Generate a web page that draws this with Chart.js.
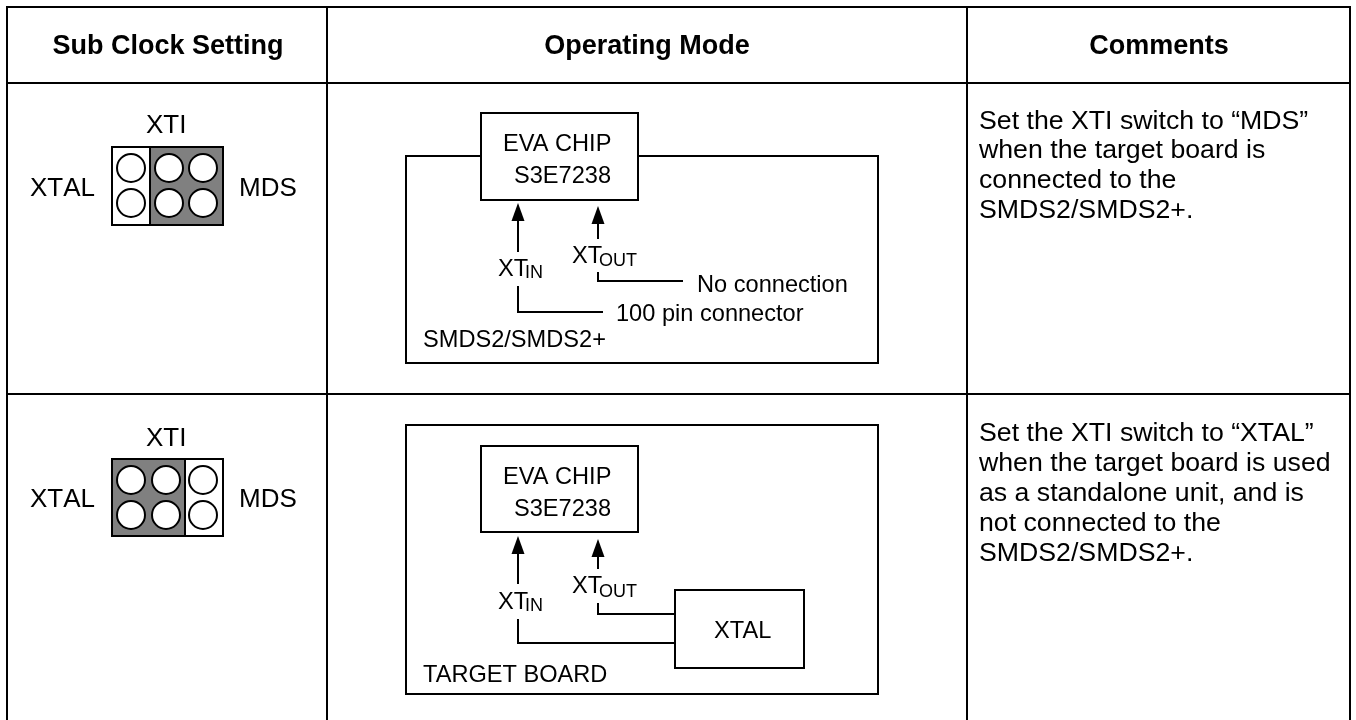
<!DOCTYPE html>
<html>
<head>
<meta charset="utf-8">
<title>Sub Clock Setting</title>
<script src="https://cdn.jsdelivr.net/npm/chart.js@4"></script>
<style>
  html, body { margin: 0; padding: 0; background: #fff; }
  canvas { display: block; }
</style>
</head>
<body>
<canvas id="clockChart" width="1356" height="720"></canvas>
<script>
// Table frame
const tableColumnXs = [7, 327, 967, 1350];
const tableRowYs = [7, 83, 394];
const tableBottomY = 720;

// Jumper blocks: [left, right, top, bottom, divider x]
const jumperTop = [112, 223, 147, 225, 150];
const jumperBottom = [112, 223, 459, 536, 185];
const jumperTopPins = [[131, 168], [169, 168], [203, 168], [131, 203], [169, 203], [203, 203]];
const jumperBottomPins = [[131, 480], [166, 480], [203, 480], [131, 515], [166, 515], [203, 515]];

// Outlines of the two operating mode drawings
const boardTopPath = [[481, 156], [406, 156], [406, 363], [878, 363], [878, 156], [638, 156]];
const chipTopPath = [[481, 113], [638, 113], [638, 200], [481, 200], [481, 113]];
const boardBottomPath = [[406, 425], [878, 425], [878, 694], [406, 694], [406, 425]];
const chipBottomPath = [[481, 446], [638, 446], [638, 532], [481, 532], [481, 446]];
const xtalBoxPath = [[675, 590], [804, 590], [804, 668], [675, 668], [675, 590]];

// Wires
const wirePaths = [
  [[518, 221], [518, 251]],
  [[598, 224], [598, 238]],
  [[518, 287], [518, 312], [602, 312]],
  [[598, 273], [598, 281], [682, 281]],
  [[518, 554], [518, 583]],
  [[598, 557], [598, 568]],
  [[598, 604], [598, 614], [675, 614]],
  [[518, 620], [518, 643], [675, 643]]
];

// Arrow heads: [x, tip y]
const arrowTips = [[518, 203], [598, 206], [518, 536], [598, 539]];
const arrowLength = 18;
const arrowHalfWidth = 6.5;

// Header text
const headerTexts = ['Sub Clock Setting', 'Operating Mode', 'Comments'];
const headerXs = [168, 647, 1159];
const headerY = 54;

// Jumper text
const jumperTexts = ['XTI', 'XTAL', 'MDS', 'XTI', 'XTAL', 'MDS'];
const jumperXs = [146, 30, 239, 146, 30, 239];
const jumperYs = [133, 196, 196, 446, 507, 507];

// Diagram text
const labelTexts = ['EVA CHIP', 'S3E7238', 'XT', 'XT', 'No connection', '100 pin connector', 'SMDS2/SMDS2+',
  'EVA CHIP', 'S3E7238', 'XT', 'XT', 'XTAL', 'TARGET BOARD'];
const labelXs = [503, 514, 498, 572, 697, 616, 423,
  503, 514, 498, 572, 714, 423];
const labelYs = [151, 183, 276, 263, 292, 321, 347,
  484, 516, 609, 593, 638, 682];

// Subscripts
const subTexts = ['IN', 'OUT', 'IN', 'OUT'];
const subXs = [525, 599, 525, 599];
const subYs = [278, 266, 611, 597];

// Comments column
const commentLines = [
  'Set the XTI switch to \u201CMDS\u201D', 'when the target board is', 'connected to the', 'SMDS2/SMDS2+.',
  'Set the XTI switch to \u201CXTAL\u201D', 'when the target board is used', 'as a standalone unit, and is', 'not connected to the', 'SMDS2/SMDS2+.'
];
const commentX = 979;
const commentYs = [129, 158, 188, 218, 441, 471, 501, 531, 561];

function toPoints(path) {
  return path.map(function (p) { return { x: p[0], y: p[1] }; });
}

function rectPath(r, left, right) {
  return [[left, r[2]], [right, r[2]], [right, r[3]], [left, r[3]], [left, r[2]]];
}

const datasets = [];

function addPath(path, width, fillColor) {
  datasets.push({
    data: toPoints(path),
    borderColor: '#000',
    borderWidth: width,
    borderCapStyle: 'square',
    pointRadius: 0,
    tension: 0,
    fill: fillColor ? 'shape' : false,
    backgroundColor: fillColor || 'transparent'
  });
}

function addPins(pins) {
  datasets.push({
    data: toPoints(pins),
    showLine: false,
    pointStyle: 'circle',
    pointRadius: 14,
    pointBorderWidth: 2,
    pointBorderColor: '#000',
    pointBackgroundColor: '#fff'
  });
}

// table
tableColumnXs.forEach(function (x) {
  addPath([[x, tableRowYs[0]], [x, tableBottomY]], 2);
});
tableRowYs.forEach(function (y) {
  addPath([[tableColumnXs[0], y], [tableColumnXs[3], y]], 2);
});

// jumpers
addPath(rectPath(jumperTop, jumperTop[0], jumperTop[1]), 2, '#fff');
addPath(rectPath(jumperTop, jumperTop[4], jumperTop[1]), 2, '#808080');
addPins(jumperTopPins);
addPath(rectPath(jumperBottom, jumperBottom[0], jumperBottom[1]), 2, '#fff');
addPath(rectPath(jumperBottom, jumperBottom[0], jumperBottom[4]), 2, '#808080');
addPins(jumperBottomPins);

// boards, chips, wires
[boardTopPath, chipTopPath, boardBottomPath, chipBottomPath, xtalBoxPath].forEach(function (path) {
  addPath(path, 2);
});
wirePaths.forEach(function (path) {
  addPath(path, 2);
});
arrowTips.forEach(function (tip) {
  addPath([
    [tip[0], tip[1]],
    [tip[0] + arrowHalfWidth, tip[1] + arrowLength],
    [tip[0] - arrowHalfWidth, tip[1] + arrowLength],
    [tip[0], tip[1]]
  ], 0, '#000');
});

// Chart.js paints high order first, so keep array order as paint order
datasets.forEach(function (d, i) {
  d.order = datasets.length - i;
});

const textPlugin = {
  id: 'diagramText',
  afterDatasetsDraw: function (chart) {
    const ctx = chart.ctx;
    const xs = chart.scales.x;
    const ys = chart.scales.y;

    function put(text, x, y, font, align) {
      ctx.font = font;
      ctx.textAlign = align;
      ctx.fillText(text, xs.getPixelForValue(x), ys.getPixelForValue(y));
    }

    ctx.save();
    ctx.fillStyle = '#000';
    ctx.textBaseline = 'alphabetic';
    headerTexts.forEach(function (t, i) {
      put(t, headerXs[i], headerY, 'bold 27px "Liberation Sans"', 'center');
    });
    ctx.fontKerning = 'none'; // XTAL sits wider in the original
    jumperTexts.forEach(function (t, i) {
      put(t, jumperXs[i], jumperYs[i], '26px "Liberation Sans"', 'left');
    });
    ctx.fontKerning = 'auto';
    labelTexts.forEach(function (t, i) {
      put(t, labelXs[i], labelYs[i], '23.6px "Liberation Sans"', 'left');
    });
    subTexts.forEach(function (t, i) {
      put(t, subXs[i], subYs[i], '18px "Liberation Sans"', 'left');
    });
    commentLines.forEach(function (t, i) {
      put(t, commentX, commentYs[i], '26.7px "Liberation Sans"', 'left');
    });
    ctx.restore();
  }
};

const clockCtx = document.getElementById('clockChart').getContext('2d');

const clockChart = new Chart(clockCtx, {
  type: 'line',
  data: { datasets: datasets },
  plugins: [textPlugin],
  options: {
    responsive: false,
    maintainAspectRatio: false,
    animation: false,
    clip: false,
    layout: { padding: 0, autoPadding: false },
    plugins: {
      legend: { display: false },
      tooltip: { enabled: false },
      title: { display: false }
    },
    scales: {
      x: { type: 'linear', display: false, min: 0, max: 1356 },
      y: { type: 'linear', display: false, min: 0, max: 720, reverse: true }
    }
  }
});
</script>
</body>
</html>
